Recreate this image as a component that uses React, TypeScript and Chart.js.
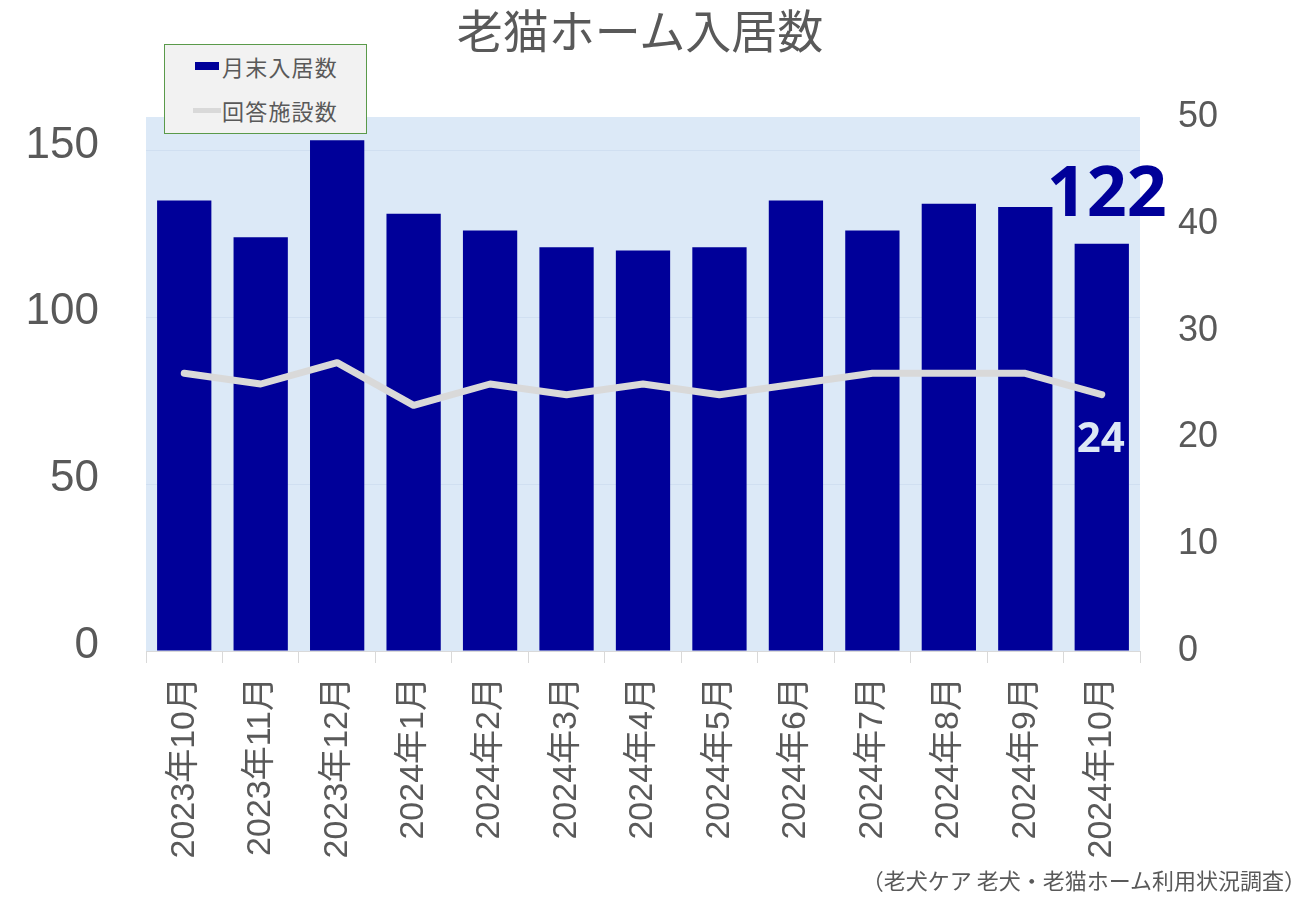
import React, { useEffect, useRef } from "react";
import { Chart, registerables } from "chart.js";

Chart.register(...registerables);

const categories = [
  "2023年10月", "2023年11月", "2023年12月", "2024年1月", "2024年2月", "2024年3月",
  "2024年4月", "2024年5月", "2024年6月", "2024年7月", "2024年8月", "2024年9月", "2024年10月",
];
const residents = [135, 124, 153, 131, 126, 121, 120, 121, 135, 126, 134, 133, 122];
const facilities = [26, 25, 27, 23, 25, 24, 25, 24, 25, 26, 26, 26, 24];
const leftTicks = [0, 50, 100, 150];
const rightTicks = [0, 10, 20, 30, 40, 50];

const TITLE = "老猫ホーム入居数";
const SERIES_BAR = "月末入居数";
const SERIES_LINE = "回答施設数";
const SOURCE = "（老犬ケア 老犬・老猫ホーム利用状況調査）";

const FONT = '"Liberation Sans", "Noto Sans CJK JP", sans-serif';
const TEXT = "#595959";
const NAVY = "#000099";
const GRAY = "#d9d9d9";

const bgPlugin = {
  id: "plotBg",
  beforeDraw(chart: any) {
    const { ctx, chartArea } = chart;
    ctx.save();
    ctx.fillStyle = "#dce9f7";
    ctx.fillRect(chartArea.left, chartArea.top, chartArea.right - chartArea.left, chartArea.bottom - chartArea.top);
    ctx.restore();
  },
};

const labelPlugin = {
  id: "lastLabels",
  afterDatasetsDraw(chart: any) {
    const { ctx } = chart;
    const last = categories.length - 1;
    const barEl = chart.getDatasetMeta(1).data[last];
    const lineEl = chart.getDatasetMeta(0).data[last];
    ctx.save();
    ctx.textAlign = "center";
    ctx.textBaseline = "alphabetic";
    if (barEl) {
      ctx.font = `bold 70px "Noto Sans", ${FONT}`;
      ctx.fillStyle = NAVY;
      ctx.fillText(String(residents[last]), barEl.x + 5, barEl.y - 28);
    }
    if (lineEl) {
      ctx.font = `bold 42px "Noto Sans", ${FONT}`;
      ctx.fillStyle = "#dde8f5";
      ctx.fillText(String(facilities[last]), lineEl.x - 1, lineEl.y + 57);
    }
    ctx.restore();
  },
};

export default function App() {
  const ref = useRef<HTMLCanvasElement>(null);

  useEffect(() => {
    if (!ref.current) return;
    const chart = new Chart(ref.current, {
      type: "bar",
      data: {
        labels: categories,
        datasets: [
          {
            type: "line",
            label: SERIES_LINE,
            data: facilities,
            yAxisID: "y1",
            borderColor: GRAY,
            backgroundColor: GRAY,
            borderWidth: 7,
            pointRadius: 0,
            tension: 0,
            borderCapStyle: "round",
            borderJoinStyle: "round",
            order: 0,
          } as any,
          {
            type: "bar",
            label: SERIES_BAR,
            data: residents,
            yAxisID: "y",
            backgroundColor: NAVY,
            borderWidth: 0,
            barPercentage: 0.71,
            categoryPercentage: 1,
            order: 1,
          },
        ],
      },
      options: {
        responsive: false,
        animation: false,
        layout: { padding: { left: 0, right: 0, top: 117, bottom: 0 } },
        plugins: {
          legend: { display: false },
          title: { display: false },
          tooltip: { enabled: false },
        },
        scales: {
          x: {
            offset: true,
            grid: {
              display: true,
              drawOnChartArea: false,
              drawTicks: true,
              tickLength: 12,
              color: GRAY,
              offset: true,
            },
            border: { display: true, color: GRAY },
            ticks: {
              autoSkip: false,
              maxRotation: 90,
              minRotation: 90,
              padding: 14,
              color: TEXT,
              font: { family: FONT, size: 34 },
            },
            afterFit(scale: any) {
              scale.height = 249;
            },
          },
          y: {
            position: "left",
            min: 0,
            max: 160,
            afterBuildTicks(scale: any) {
              scale.ticks = leftTicks.map((v) => ({ value: v }));
            },
            grid: { color: "#d0dff1", drawTicks: false },
            border: { display: false },
            ticks: {
              padding: 47,
              labelOffset: -5,
              color: TEXT,
              font: { family: FONT, size: 44 },
            },
            afterFit(scale: any) {
              scale.width = 146;
            },
          },
          y1: {
            position: "right",
            min: 0,
            max: 50,
            afterBuildTicks(scale: any) {
              scale.ticks = rightTicks.map((v) => ({ value: v }));
            },
            grid: { display: false, drawTicks: false },
            border: { display: false },
            ticks: {
              padding: 38,
              color: TEXT,
              font: { family: FONT, size: 36 },
            },
            afterFit(scale: any) {
              scale.width = 160;
            },
          },
        },
      },
      plugins: [bgPlugin, labelPlugin],
    });
    return () => chart.destroy();
  }, []);

  return (
    <div style={{ position: "absolute", left: 0, top: 0, width: 1300, height: 900, background: "#fff", fontFamily: FONT }}>
      <canvas ref={ref} width={1300} height={900} style={{ display: "block" }} />
      <div
        style={{
          position: "absolute", left: 0, width: 1280, top: 1, textAlign: "center",
          fontSize: 46, color: TEXT, fontFamily: '"Noto Sans CJK JP", sans-serif', lineHeight: "54px",
        }}
      >
        {TITLE}
      </div>
      <div
        style={{
          position: "absolute", left: 164, top: 44, width: 201, height: 88,
          background: "#f2f2f2", border: "1px solid #5a9a4a", boxSizing: "content-box",
          fontFamily: '"Noto Sans CJK JP", sans-serif', fontSize: 22, color: TEXT, letterSpacing: "1.2px",
        }}
      >
        <div style={{ position: "absolute", left: 30, top: 17, width: 24, height: 8, background: NAVY }} />
        <div style={{ position: "absolute", left: 57, top: 6, lineHeight: "30px", whiteSpace: "nowrap" }}>{SERIES_BAR}</div>
        <div style={{ position: "absolute", left: 28, top: 63, width: 28, height: 5, background: GRAY }} />
        <div style={{ position: "absolute", left: 57, top: 50, lineHeight: "30px", whiteSpace: "nowrap" }}>{SERIES_LINE}</div>
      </div>
      <div
        style={{
          position: "absolute", right: -6, top: 865, fontSize: 22, color: TEXT,
          fontFamily: '"Noto Sans CJK JP", sans-serif', lineHeight: "28px", whiteSpace: "nowrap",
        }}
      >
        {SOURCE}
      </div>
    </div>
  );
}
